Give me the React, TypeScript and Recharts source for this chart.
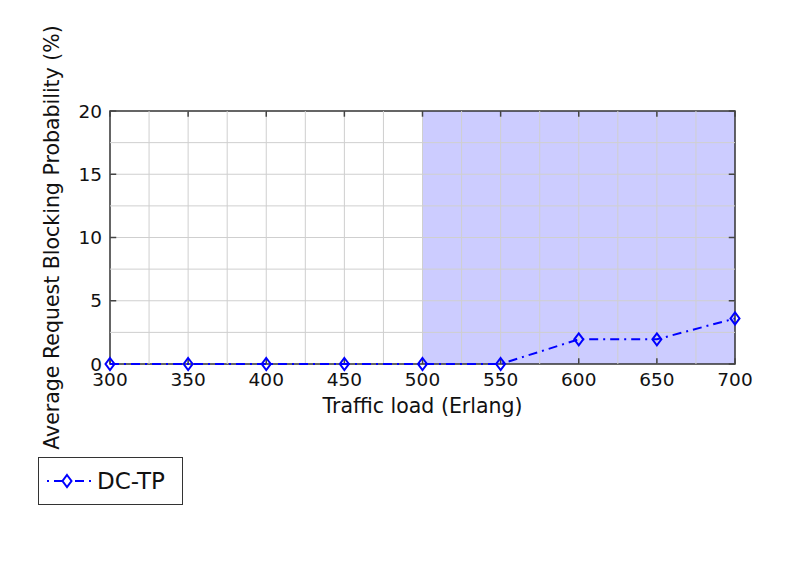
import React from 'react';
import { LineChart, Line, XAxis, YAxis, ReferenceArea, ReferenceLine } from 'recharts';

const loads = [300, 350, 400, 450, 500, 550, 600, 650, 700];
const blocking = [0, 0, 0, 0, 0, 0, 1.95, 1.95, 3.6];
const xTicks = [300, 350, 400, 450, 500, 550, 600, 650, 700];
const yTicks = [0, 5, 10, 15, 20];
const xGrid = [325, 350, 375, 400, 425, 450, 475, 500, 525, 550, 575, 600, 625, 650, 675];
const yGrid = [2.5, 5, 7.5, 10, 12.5, 15, 17.5];
const shadeFrom = 500;
const shadeTo = 700;

const data = loads.map((x, i) => ({ x, y: blocking[i] }));

const FONT = '"DejaVu Sans", sans-serif';
const BLUE = '#0000ff';

function Diamond(props: any) {
  const { cx, cy } = props;
  if (cx == null || cy == null) return null;
  return (
    <path
      d={`M${cx},${cy - 6} L${cx + 4.5},${cy} L${cx},${cy + 6} L${cx - 4.5},${cy} Z`}
      fill="none"
      stroke={BLUE}
      strokeWidth={2}
    />
  );
}

export default function App() {
  return (
    <div style={{ position: 'absolute', left: 0, top: 0, width: 800, height: 567, background: '#fff', fontFamily: FONT }}>
      <LineChart width={800} height={567} data={data} margin={{ top: 111, right: 65, bottom: 143, left: 0 }}>
        <XAxis
          dataKey="x"
          type="number"
          domain={[300, 700]}
          ticks={xTicks}
          tick={{ fontSize: 18.5, fill: '#111', fontFamily: FONT }}
          tickLine={false}
          axisLine={false}
          tickMargin={3}
          height={60}
          label={{ value: 'Traffic load (Erlang)', position: 'insideBottom', offset: 11, fontSize: 20.5, fill: '#111', fontFamily: FONT }}
        />
        <YAxis
          type="number"
          domain={[0, 20]}
          ticks={yTicks}
          tick={{ fontSize: 18.5, fill: '#111', fontFamily: FONT }}
          tickLine={false}
          axisLine={false}
          tickMargin={2}
          width={110}
          label={{ value: 'Average Request Blocking Probability (%)', angle: -90, position: 'insideLeft', offset: 52, style: { textAnchor: 'middle' }, fontSize: 20.5, fill: '#111', fontFamily: FONT }}
        />
        {xGrid.map((v) => (
          <ReferenceLine key={`gx${v}`} x={v} stroke="#cfcfcf" strokeWidth={1} />
        ))}
        {yGrid.map((v) => (
          <ReferenceLine key={`gy${v}`} y={v} stroke="#cfcfcf" strokeWidth={1} />
        ))}
        <ReferenceArea x1={shadeFrom} x2={shadeTo} y1={0} y2={20} fill={BLUE} fillOpacity={0.2} stroke="none" />
        {xTicks.map((v) => (
          <ReferenceLine key={`tb${v}`} segment={[{ x: v, y: 0 }, { x: v, y: 0.45 }]} stroke="#444" strokeWidth={1.5} />
        ))}
        {xTicks.map((v) => (
          <ReferenceLine key={`tt${v}`} segment={[{ x: v, y: 20 }, { x: v, y: 19.55 }]} stroke="#444" strokeWidth={1.5} />
        ))}
        {yTicks.map((v) => (
          <ReferenceLine key={`tl${v}`} segment={[{ x: 300, y: v }, { x: 304, y: v }]} stroke="#444" strokeWidth={1.5} />
        ))}
        {yTicks.map((v) => (
          <ReferenceLine key={`tr${v}`} segment={[{ x: 700, y: v }, { x: 696, y: v }]} stroke="#444" strokeWidth={1.5} />
        ))}
        <ReferenceArea x1={300} x2={700} y1={0} y2={20} fill="none" stroke="#333" strokeWidth={1.5} />
        <Line
          type="linear"
          dataKey="y"
          stroke={BLUE}
          strokeWidth={2}
          strokeDasharray="9 5 2 5"
          dot={<Diamond />}
          activeDot={false}
          isAnimationActive={false}
        />
      </LineChart>
      <div
        style={{
          position: 'absolute',
          left: 38,
          top: 457,
          width: 145,
          height: 48,
          border: '1px solid #333',
          boxSizing: 'border-box',
          display: 'flex',
          alignItems: 'center',
        }}
      >
        <svg width={50} height={20} style={{ marginLeft: 6 }}>
          <line x1={2} y1={10} x2={46} y2={10} stroke={BLUE} strokeWidth={2} strokeDasharray="2 5 9 5" />
          <path d="M22,4 L26.5,10 L22,16 L17.5,10 Z" fill="#fff" stroke={BLUE} strokeWidth={2} />
        </svg>
        <span style={{ fontSize: 23, color: '#111', marginLeft: 2 }}>DC-TP</span>
      </div>
    </div>
  );
}
